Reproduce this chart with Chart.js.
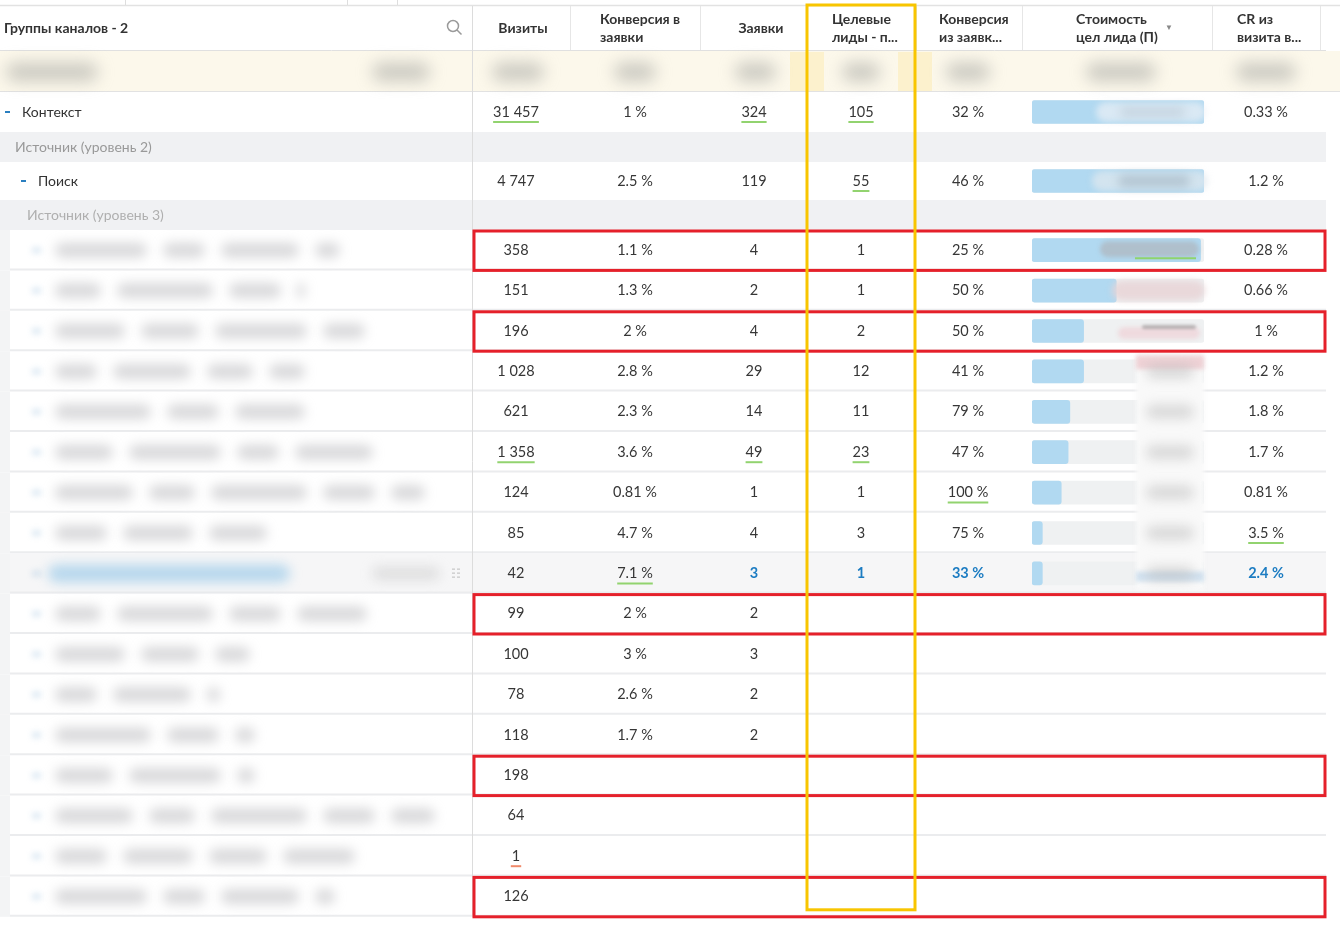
<!DOCTYPE html>
<html>
<head>
<meta charset="utf-8">
<script src="https://cdn.jsdelivr.net/npm/chart.js@4/dist/chart.umd.min.js"></script>
<style>
html, body { margin: 0; background: #fff; }
#wrap { width: 1340px; height: 940px; position: relative; }
</style>
</head>
<body>
<div id="wrap"><canvas id="chart"></canvas></div>
<script>
// rows of the table (first row is the blurred totals row)
var rowNames = ['', 'Контекст', 'Источник (уровень 2)', 'Поиск', 'Источник (уровень 3)',
    '', '', '', '', '', '', '', '', '', '', '', '', '', '', '', '', ''];
var rowKinds = ['summary', 'group1', 'section', 'group2', 'section',
    'item', 'item', 'item', 'item', 'item', 'item', 'item', 'item', 'item',
    'item', 'item', 'item', 'item', 'item', 'item', 'item', 'item'];

var headerTitle = 'Группы каналов - 2';
var columnTitles = [['Визиты'], ['Конверсия в', 'заявки'], ['Заявки'], ['Целевые', 'лиды - п...'],
    ['Конверсия', 'из заявк...'], ['Стоимость', 'цел лида (П)'], ['CR из', 'визита в...']];

var visits = [null, 31457, null, 4747, null, 358, 151, 196, 1028, 621, 1358, 124, 85, 42, 99, 100, 78, 118, 198, 64, 1, 126];
var convToRequests = [null, 1, null, 2.5, null, 1.1, 1.3, 2, 2.8, 2.3, 3.6, 0.81, 4.7, 7.1, 2, 3, 2.6, 1.7, null, null, null, null];
var requests = [null, 324, null, 119, null, 4, 2, 4, 29, 14, 49, 1, 4, 3, 2, 3, 2, 2, null, null, null, null];
var targetLeads = [null, 105, null, 55, null, 1, 1, 2, 12, 11, 23, 1, 3, 1, null, null, null, null, null, null, null, null];
var convFromRequests = [null, 32, null, 46, null, 25, 50, 50, 41, 79, 47, 100, 75, 33, null, null, null, null, null, null, null, null];
// lead cost is blurred in the source, kept as share of the column maximum
var leadCostShare = [null, 100, null, 100, null, 98, 49, 30, 30, 22, 21, 17, 6, 6, null, null, null, null, null, null, null, null];
var crVisitToLead = [null, 0.33, null, 1.2, null, 0.28, 0.66, 1, 1.2, 1.8, 1.7, 0.81, 3.5, 2.4, null, null, null, null, null, null, null, null];

var greenMarks = { visits: [1, 10], requests: [1, 10], targetLeads: [1, 3, 10], convFromRequests: [11], crVisitToLead: [12], convToRequests: [13] };
var redMarks = { visits: [20] };
var selectedRow = 13;
var boxedRows = [5, 7, 14, 18, 21];

// ---- layout (pixels) ----
var ROW_H = [40, 40, 30, 38, 30].concat(Array(17).fill(40.4));
var FONT = 'Lato, "Open Sans", sans-serif';
var TABLE_RIGHT = 1326;
var NAME_RIGHT = 472;
var blurLen = [340, 305, 375, 305, 305, 375, 425, 282, 290, 375, 250, 220, 255, 255, 435, 355, 335];
var wordPattern = [42, 96, 58, 78, 52, 92, 46, 70];

var columns = [
    { key: 'visits', data: visits, x: 516, fmt: fmtInt },
    { key: 'convToRequests', data: convToRequests, x: 635, fmt: fmtPct },
    { key: 'requests', data: requests, x: 754, fmt: fmtInt },
    { key: 'targetLeads', data: targetLeads, x: 861, fmt: fmtInt },
    { key: 'convFromRequests', data: convFromRequests, x: 968, fmt: fmtPct },
    { key: 'crVisitToLead', data: crVisitToLead, x: 1266, fmt: fmtPct }
];
var blueCols = ['requests', 'targetLeads', 'convFromRequests', 'crVisitToLead'];

function fmtInt(v) { return String(v).replace(/\B(?=(\d{3})+(?!\d))/g, ' '); }
function fmtPct(v) { return String(v) + ' %'; }

function rowStart(i) {
    var s = 0;
    for (var k = 0; k < i; k++) s += ROW_H[k];
    return s;
}
function rowMid(i) { return rowStart(i) + ROW_H[i] / 2; }
var totalH = rowStart(ROW_H.length);

function rowPx(chart, i) {
    var y = chart.scales.y;
    return {
        top: y.getPixelForValue(rowStart(i)),
        bottom: y.getPixelForValue(rowStart(i) + ROW_H[i]),
        mid: y.getPixelForValue(rowMid(i))
    };
}

function text(ctx, s, x, y, o) {
    o = o || {};
    ctx.font = (o.bold ? 'bold ' : '') + (o.size || 14.5) + 'px ' + FONT;
    ctx.fillStyle = o.color || '#363636';
    ctx.textAlign = o.align || 'center';
    ctx.textBaseline = 'middle';
    ctx.fillText(s, x, y);
    return ctx.measureText(s).width;
}

function blob(ctx, x1, x2, cy, h, color, blur) {
    ctx.save();
    ctx.filter = 'blur(' + blur + 'px)';
    ctx.fillStyle = color;
    ctx.beginPath();
    ctx.roundRect(x1, cy - h / 2, x2 - x1, h, h / 2);
    ctx.fill();
    ctx.restore();
}

function hline(ctx, x1, x2, y, color, w) {
    ctx.strokeStyle = color;
    ctx.lineWidth = w || 1;
    ctx.beginPath();
    ctx.moveTo(x1, y);
    ctx.lineTo(x2, y);
    ctx.stroke();
}
function vline(ctx, x, y1, y2, color, w) {
    ctx.strokeStyle = color;
    ctx.lineWidth = w || 1;
    ctx.beginPath();
    ctx.moveTo(x, y1);
    ctx.lineTo(x, y2);
    ctx.stroke();
}

var tablePlugin = {
    id: 'table',
    beforeDraw: function (chart) {
        var ctx = chart.ctx;
        ctx.save();
        ctx.fillStyle = '#fff';
        ctx.fillRect(0, 0, chart.width, chart.height);

        // thin strip above header
        hline(ctx, 0, 1340, 5.5, '#e2e2e2', 1.5);
        [125, 347, 397].forEach(function (x) { vline(ctx, x + 0.5, 0, 5, '#dedede'); });

        rowKinds.forEach(function (kind, i) {
            var r = rowPx(chart, i);
            if (kind === 'summary') {
                ctx.fillStyle = '#fcf8eb';
                ctx.fillRect(0, r.top - 1, 1340, r.bottom - r.top + 1);
                ctx.fillStyle = 'rgba(252, 228, 150, 0.35)';
                ctx.fillRect(790, r.top, 34, r.bottom - r.top);
                ctx.fillRect(898, r.top, 34, r.bottom - r.top);
                hline(ctx, 0, 1340, r.bottom - 0.5, '#e2e2e2');
            } else if (kind === 'section') {
                ctx.fillStyle = '#f0f1f3';
                ctx.fillRect(0, r.top, TABLE_RIGHT, r.bottom - r.top);
            } else if (kind === 'item') {
                ctx.fillStyle = '#f3f4f5';
                ctx.fillRect(0, r.top, 10, r.bottom - r.top);
                if (i === selectedRow) {
                    ctx.fillStyle = '#f6f6f7';
                    ctx.fillRect(10, r.top, TABLE_RIGHT - 10, r.bottom - r.top);
                }
                hline(ctx, 10, TABLE_RIGHT, r.bottom - 1, '#ebecee', 2);
            }
        });

        // header lines
        hline(ctx, 0, TABLE_RIGHT, 50.5, '#e0e0e0');
        [570, 700, 916, 1022, 1212, 1320].forEach(function (x) { vline(ctx, x + 0.5, 6, 50, '#e6e6e6'); });
        vline(ctx, NAME_RIGHT + 0.5, 6, chart.chartArea.bottom, '#dcdcdc');

        // blurred totals row
        var s = rowPx(chart, 0);
        var gray = 'rgba(170, 170, 165, 0.6)';
        [[6, 98], [372, 430], [492, 544], [614, 656], [735, 776], [842, 880], [946, 990], [1086, 1156], [1236, 1296]]
            .forEach(function (b) { blob(ctx, b[0], b[1], s.mid, 18, gray, 8); });

        // blurred names of level-3 sources
        for (var i = 5; i < rowKinds.length; i++) {
            var r = rowPx(chart, i), end = blurLen[i - 5];
            var sel = i === selectedRow;
            blob(ctx, 32, 41, r.mid, 5, 'rgba(120, 170, 210, 0.35)', 3);
            if (sel) {
                blob(ctx, 48, end, r.mid, 18, 'rgba(150, 200, 232, 0.65)', 6);
                blob(ctx, 372, 440, r.mid, 14, 'rgba(190, 190, 190, 0.4)', 6);
                ctx.fillStyle = '#cfcfcf';
                for (var d = 0; d < 3; d++) {
                    ctx.fillRect(452, r.mid - 5 + d * 4, 3, 1.5);
                    ctx.fillRect(457, r.mid - 5 + d * 4, 3, 1.5);
                }
                continue;
            }
            var x = 55, k = i;
            while (x < end) {
                var w = Math.min(wordPattern[k % wordPattern.length], end - x);
                blob(ctx, x, x + w, r.mid, 15, 'rgba(165, 165, 170, 0.42)', 6);
                x += w + 16;
                k += 3;
            }
        }
        ctx.restore();
    },
    afterDatasetsDraw: function (chart) {
        var ctx = chart.ctx;
        ctx.save();

        // blurred cost figures over the bars
        var r1 = rowPx(chart, 1), r3 = rowPx(chart, 3);
        blob(ctx, 1096, 1206, r1.mid, 20, 'rgba(235, 240, 245, 0.7)', 3);
        blob(ctx, 1120, 1185, r1.mid, 10, 'rgba(160, 175, 190, 0.35)', 5);
        blob(ctx, 1092, 1208, r3.mid, 20, 'rgba(225, 232, 238, 0.7)', 3);
        blob(ctx, 1118, 1190, r3.mid, 12, 'rgba(140, 160, 175, 0.45)', 5);
        var r5 = rowPx(chart, 5), r6 = rowPx(chart, 6), r7 = rowPx(chart, 7);
        blob(ctx, 1100, 1199, r5.mid - 1, 16, 'rgba(175, 188, 200, 0.9)', 2);
        hline(ctx, 1135, 1196, r5.mid + 8, '#8fd46c', 2);
        blob(ctx, 1112, 1205, r6.mid, 20, 'rgba(232, 212, 214, 0.85)', 3);
        blob(ctx, 1118, 1200, r7.mid + 2, 12, 'rgba(238, 214, 218, 0.85)', 2);
        blob(ctx, 1142, 1196, r7.mid - 4, 4, 'rgba(80, 80, 80, 0.35)', 1.5);
        var rTop = rowPx(chart, 8), rBot = rowPx(chart, 13);
        ctx.save();
        ctx.filter = 'blur(2px)';
        ctx.fillStyle = '#f9f9f9';
        ctx.fillRect(1136, rTop.top + 4, 68, rBot.bottom - rTop.top - 8);
        ctx.fillStyle = 'rgba(236, 200, 205, 0.8)';
        ctx.fillRect(1136, rTop.top + 4, 68, 14);
        ctx.fillStyle = 'rgba(200, 220, 238, 0.8)';
        ctx.fillRect(1136, rBot.bottom - 22, 68, 10);
        ctx.restore();
        for (var i = 8; i <= 13; i++) {
            blob(ctx, 1146, 1194, rowPx(chart, i).mid, 14, 'rgba(185, 185, 185, 0.5)', 6);
        }

        // header texts
        text(ctx, headerTitle, 4, 28, { bold: true, align: 'left', color: '#333', size: 14 });
        ctx.strokeStyle = '#9a9a9a';
        ctx.lineWidth = 1.5;
        ctx.beginPath();
        ctx.arc(453, 26, 5.5, 0, Math.PI * 2);
        ctx.moveTo(457, 30);
        ctx.lineTo(461.5, 34.5);
        ctx.stroke();
        var headX = [[523, 'center'], [600, 'left'], [761, 'center'], [832, 'left'], [939, 'left'], [1076, 'left'], [1237, 'left']];
        columnTitles.forEach(function (lines, c) {
            if (lines.length === 1) {
                text(ctx, lines[0], headX[c][0], 28, { bold: true, align: headX[c][1], color: '#333', size: 14 });
            } else {
                text(ctx, lines[0], headX[c][0], 19, { bold: true, align: headX[c][1], color: '#333', size: 14 });
                text(ctx, lines[1], headX[c][0], 37, { bold: true, align: headX[c][1], color: '#333', size: 14 });
            }
        });
        text(ctx, '▼', 1169, 27, { size: 8, color: '#888' });

        // row names
        rowKinds.forEach(function (kind, i) {
            var r = rowPx(chart, i);
            if (kind === 'group1' || kind === 'group2') {
                var dx = kind === 'group1' ? 5 : 21;
                ctx.fillStyle = '#2a7fc0';
                ctx.fillRect(dx, r.mid - 1, 5, 2);
                text(ctx, rowNames[i], dx + 17, r.mid, { align: 'left', color: '#333', size: 14 });
            } else if (kind === 'section') {
                text(ctx, rowNames[i], i === 2 ? 15 : 27, r.mid, { align: 'left', color: i === 2 ? '#999' : '#afafaf', size: 14 });
            }
        });

        // numeric cells
        columns.forEach(function (col) {
            col.data.forEach(function (v, i) {
                if (v === null) return;
                var r = rowPx(chart, i);
                var blue = i === selectedRow && blueCols.indexOf(col.key) >= 0;
                var s = col.fmt(v);
                var w = text(ctx, s, col.x, r.mid, { bold: blue, color: blue ? '#1c7cc2' : '#363636' });
                var g = greenMarks[col.key] || [], rd = redMarks[col.key] || [];
                if (g.indexOf(i) >= 0) hline(ctx, col.x - w / 2, col.x + w / 2, r.mid + 10, '#92d36f', 2);
                if (rd.indexOf(i) >= 0) hline(ctx, col.x - w / 2 - 1, col.x + w / 2 + 1, r.mid + 10, '#f08a6a', 2);
            });
        });

        // red highlight boxes
        ctx.strokeStyle = '#e5202a';
        ctx.lineWidth = 3;
        boxedRows.forEach(function (i) {
            var r = rowPx(chart, i);
            ctx.strokeRect(474, r.top + 1, TABLE_RIGHT - 475, r.bottom - r.top - 1);
        });

        // yellow column box
        var last = rowPx(chart, rowKinds.length - 1);
        ctx.strokeStyle = '#f8c500';
        ctx.lineWidth = 3;
        ctx.strokeRect(807, 5, 108, last.bottom - 7 - 5);
        ctx.restore();
    }
};

var trackPoints = [], costPoints = [];
leadCostShare.forEach(function (v, i) {
    if (v === null) return;
    trackPoints.push({ x: 100, y: rowMid(i) });
    costPoints.push({ x: v, y: rowMid(i) });
});

new Chart(document.getElementById('chart'), {
    type: 'bar',
    data: {
        datasets: [{
            label: 'Стоимость цел лида (П)',
            data: costPoints,
            backgroundColor: '#b1d9f1',
            borderWidth: 0,
            borderSkipped: false,
            borderRadius: 3,
            barThickness: 23,
            grouped: false,
            order: 1
        }, {
            label: 'track',
            data: trackPoints,
            backgroundColor: '#eff1f2',
            borderWidth: 0,
            borderSkipped: false,
            borderRadius: 3,
            barThickness: 23,
            grouped: false,
            order: 2
        }]
    },
    options: {
        indexAxis: 'y',
        responsive: true,
        maintainAspectRatio: false,
        animation: false,
        layout: { padding: { left: 1032, right: 136, top: 52, bottom: 940 - 52 - totalH } },
        scales: {
            x: { type: 'linear', min: 0, max: 100, display: false },
            y: { type: 'linear', min: 0, max: totalH, reverse: true, offset: false, display: false }
        },
        plugins: { legend: { display: false }, tooltip: { enabled: false } }
    },
    plugins: [tablePlugin]
});
</script>
</body>
</html>
